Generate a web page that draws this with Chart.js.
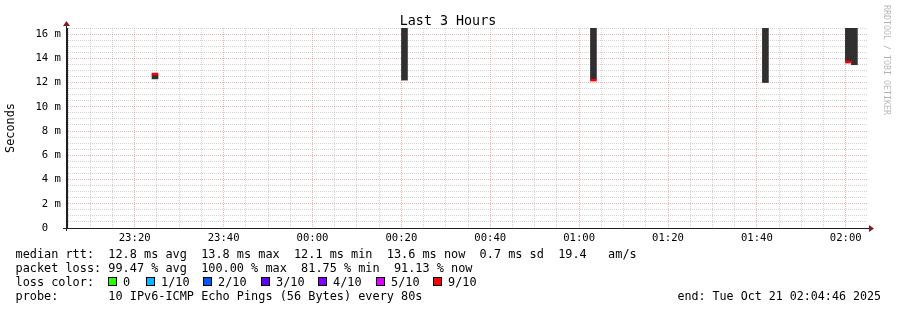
<!DOCTYPE html>
<html>
<head>
<meta charset="utf-8">
<title>Last 3 Hours</title>
<script src="https://cdn.jsdelivr.net/npm/chart.js@4.4.0/dist/chart.umd.min.js"></script>
<style>
  html, body { margin: 0; padding: 0; background: #fff; }
  #wrap { width: 897px; height: 310px; }
</style>
</head>
<body>
<div id="wrap"><canvas id="smoke-chart" width="897" height="310"></canvas></div>
<script>
// sample times, minutes after 00:00 (negative = before midnight)
const sampleTimes = [-35.43, 20.7, 63.22, 101.91, 120.58, 121.93];
// smoke: lowest / highest rtt of the pings in each sample (ms)
const smokeLow = [12.3, 12.2, 12.26, 12.0, 13.7, 13.47];
const smokeHigh = [12.65, 16.5, 16.5, 16.5, 16.5, 16.5];
// median rtt (ms), loss 9/10 -> red; null where no median is drawn
const medianRtt = [12.7, null, 12.2, null, 13.69, null];

const rangeStart = -55.23; // 23:04:46
const rangeEnd = 124.77; // 02:04:46
const yMax = 16.5;

const lossLabels = ["0", "1/10", "2/10", "3/10", "4/10", "5/10", "9/10"];
const lossColors = ["#26ff00", "#00b8ff", "#0059ff", "#5e00ff", "#7e00ff", "#dd00ff", "#ff0000"];

const titleText = "Last 3 Hours";
const statLines = [
  "median rtt:  12.8 ms avg  13.8 ms max  12.1 ms min  13.6 ms now  0.7 ms sd  19.4   am/s",
  "packet loss: 99.47 % avg  100.00 % max  81.75 % min  91.13 % now",
  "loss color:",
  "probe:       10 IPv6-ICMP Echo Pings (56 Bytes) every 80s",
];
const endText = "end: Tue Oct 21 02:04:46 2025";
const watermark = "RRDTOOL / TOBI OETIKER";

// grid steps: minor every 5 min / 0.5 ms, major every 20 min / 2 ms
const xTicks = [];
for (let m = -55; m <= 120; m += 5) xTicks.push(m);
const yTicks = [];
for (let v = 0; v <= yMax; v += 0.5) yTicks.push(v);

const MONO = "'DejaVu Sans Mono', monospace";
const GRID = "rgba(143, 143, 143, 0.38)";
const MGRID = "rgba(222, 79, 79, 0.42)";
const AXIS = "#1f1f1f";
const ARROW = "#801f1f";

function hhmm(m) {
  const t = (Math.round(m) + 1440) % 1440;
  const h = Math.floor(t / 60);
  const mm = t % 60;
  return String(h).padStart(2, "0") + ":" + String(mm).padStart(2, "0");
}

const smokeData = sampleTimes.map((t, i) => ({ x: t, y: [smokeLow[i], smokeHigh[i]] }));
const medianData = [];
sampleTimes.forEach((t, i) => {
  if (medianRtt[i] !== null) {
    medianData.push({ x: t, y: [medianRtt[i] - 0.08, medianRtt[i] + 0.08] });
  }
});

const rrdText = {
  id: "rrdText",
  afterDraw(chart) {
    const c = chart.ctx;
    const area = chart.chartArea;
    c.save();

    // axis extensions + arrows
    c.strokeStyle = AXIS;
    c.lineWidth = 1;
    c.beginPath();
    c.moveTo(area.left - 0.5, area.bottom + 3);
    c.lineTo(area.left - 0.5, area.top - 4);
    c.moveTo(area.left - 4, area.bottom + 0.5);
    c.lineTo(area.right + 3, area.bottom + 0.5);
    c.stroke();
    c.fillStyle = ARROW;
    c.beginPath();
    c.moveTo(area.left - 0.5, area.top - 7);
    c.lineTo(area.left - 4, area.top - 2);
    c.lineTo(area.left + 3, area.top - 2);
    c.closePath();
    c.fill();
    c.beginPath();
    c.moveTo(area.right + 7, area.bottom + 0.5);
    c.lineTo(area.right + 2, area.bottom - 3);
    c.lineTo(area.right + 2, area.bottom + 4);
    c.closePath();
    c.fill();

    // title
    c.fillStyle = "#000";
    c.textBaseline = "alphabetic";
    c.textAlign = "center";
    c.font = "13.35px " + MONO;
    c.fillText(titleText, 448, 24.5);

    // legend lines
    c.textAlign = "left";
    c.font = "11.875px " + MONO;
    const baseY = [258, 272, 286, 300];
    statLines.forEach((s, i) => c.fillText(s, 15.5, baseY[i]));

    const swatchX = [108, 146, 203, 261, 318, 376, 433];
    lossLabels.forEach((lab, i) => {
      const x = swatchX[i];
      c.fillStyle = lossColors[i];
      c.fillRect(x, 277, 9, 9);
      c.strokeStyle = "#000";
      c.strokeRect(x + 0.5, 277.5, 8, 8);
      c.fillStyle = "#000";
      c.fillText(lab, x + 15, 286);
    });

    c.font = "11.66px " + MONO;
    c.fillText(endText, 677.5, 300);

    // watermark
    c.translate(884, 5);
    c.rotate(Math.PI / 2);
    c.fillStyle = "rgba(0, 0, 0, 0.3)";
    c.font = "8.3px " + MONO;
    c.textBaseline = "alphabetic";
    c.fillText(watermark, 0, 0);
    c.restore();
  },
};

new Chart(document.getElementById("smoke-chart").getContext("2d"), {
  type: "bar",
  data: {
    datasets: [
      {
        label: "median",
        data: medianData,
        backgroundColor: "#ff0000",
        borderWidth: 0,
        barThickness: 6,
        grouped: false,
        order: 0,
      },
      {
        label: "smoke",
        data: smokeData,
        backgroundColor: "#303030",
        borderWidth: 0,
        barThickness: 6,
        grouped: false,
        order: 1,
      },
    ],
  },
  options: {
    responsive: false,
    animation: false,
    devicePixelRatio: 1,
    layout: {
      padding: { top: 28, right: 30, left: 0, bottom: 0 },
    },
    plugins: {
      legend: { display: false },
      tooltip: { enabled: false },
      title: { display: false },
    },
    scales: {
      x: {
        type: "linear",
        min: rangeStart,
        max: rangeEnd,
        offset: false,
        afterBuildTicks: (scale) => {
          scale.ticks = xTicks.map((v) => ({ value: v }));
        },
        afterFit: (scale) => {
          scale.height = 82;
        },
        grid: {
          offset: false,
          drawTicks: false,
          lineWidth: 1,
          color: (ctx) => (ctx.tick && ctx.tick.value % 20 === 0 ? MGRID : GRID),
        },
        border: { display: true, color: AXIS, width: 1, dash: [1, 1] },
        ticks: {
          autoSkip: false,
          maxRotation: 0,
          padding: 4,
          color: "#000",
          font: { family: MONO, size: 10.6 },
          callback: (v) => (v % 20 === 0 ? hhmm(v) : ""),
        },
      },
      y: {
        type: "linear",
        min: 0,
        max: yMax,
        afterBuildTicks: (scale) => {
          scale.ticks = yTicks.map((v) => ({ value: v }));
        },
        afterFit: (scale) => {
          scale.width = 67;
        },
        grid: {
          drawTicks: false,
          lineWidth: 1,
          color: (ctx) => (ctx.tick && ctx.tick.value % 2 === 0 ? MGRID : GRID),
        },
        border: { display: true, color: AXIS, width: 1, dash: [1, 1] },
        title: {
          display: true,
          text: "Seconds",
          color: "#000",
          padding: { top: 4, bottom: 0 },
          font: { family: MONO, size: 11.875 },
        },
        ticks: {
          autoSkip: false,
          padding: 6,
          color: "#000",
          font: { family: MONO, size: 10.6 },
          callback: (v) => (v % 2 === 0 ? (v === 0 ? "0  " : v + " m") : ""),
        },
      },
    },
  },
  plugins: [rrdText],
});
</script>
</body>
</html>
